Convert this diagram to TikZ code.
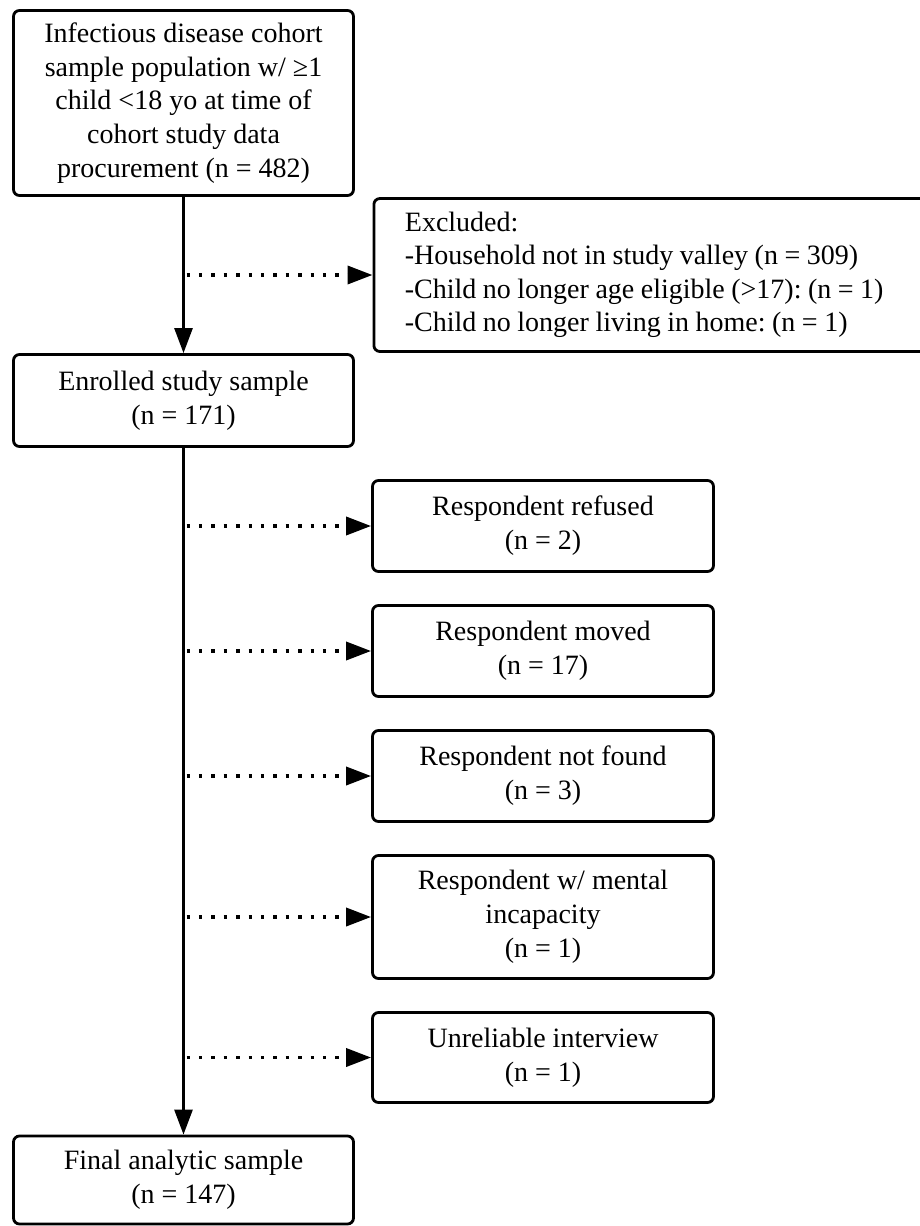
\documentclass[tikz,border=0pt]{standalone}
\usepackage{fontspec}
\setmainfont{Liberation Serif}
\usetikzlibrary{arrows.meta}
\frenchspacing
\newcommand{\mytightspace}{\spaceskip=6.5pt\relax}
\begin{document}
\begin{tikzpicture}[x=1pt,y=-1pt,
  box/.style={draw, line width=2.8pt, rounded corners=6pt, align=center,
    font=\fontsize{28}{33.8}\selectfont\frenchspacing, inner sep=0pt},
  mainarrow/.style={line width=2.7pt, -{Triangle[length=25pt,width=18pt]}},
  dotarrow/.style={line width=3.6pt, dash pattern=on 3.4pt off 9pt,
    -{Triangle[length=25pt,width=18pt]}}]
\useasboundingbox (0,0) rectangle (919,1226);
\node[box, minimum width=340, minimum height=185] (top) at (183.5,103)
  {Infectious disease cohort\\sample population w/ ≥1\\child <18 yo at time of\\cohort study data\\procurement (n = 482)};
\node[box, anchor=west, minimum width=570, minimum height=153, align=left,
  text width=508, inner xsep=30pt,
  font=\fontsize{28}{33.5}\selectfont\frenchspacing] (exc) at (372.5,275)
  {\mytightspace Excluded:\\-Household not in study valley (n = 309)\\-Child no longer age eligible (>17): (n = 1)\\-Child no longer living in home: (n = 1)};
\node[box, minimum width=340, minimum height=92] (enr) at (183.5,400.5)
  {Enrolled study sample\\(n = 171)};
\node[box, minimum width=341, minimum height=91] (ref) at (543,526)
  {Respondent refused\\(n = 2)};
\node[box, minimum width=341, minimum height=91] (mov) at (543,651)
  {Respondent moved\\(n = 17)};
\node[box, minimum width=341, minimum height=91] (nf) at (543,776)
  {Respondent not found\\(n = 3)};
\node[box, minimum width=341, minimum height=123] (men) at (543,917)
  {Respondent w/ mental\\incapacity\\(n = 1)};
\node[box, minimum width=341, minimum height=90] (unr) at (543,1057.5)
  {Unreliable interview\\(n = 1)};
\node[box, minimum width=340, minimum height=88] (fin) at (183.5,1180)
  {Final analytic sample\\(n = 147)};
\draw[mainarrow] (top.south) -- (enr.north);
\draw[mainarrow] (enr.south) -- (fin.north);
\foreach \n in {exc,ref,mov,nf,men,unr}{
  \draw[dotarrow] ([xshift=3pt]top.south |- \n.west) -- (\n.west);
}
\end{tikzpicture}
\end{document}
